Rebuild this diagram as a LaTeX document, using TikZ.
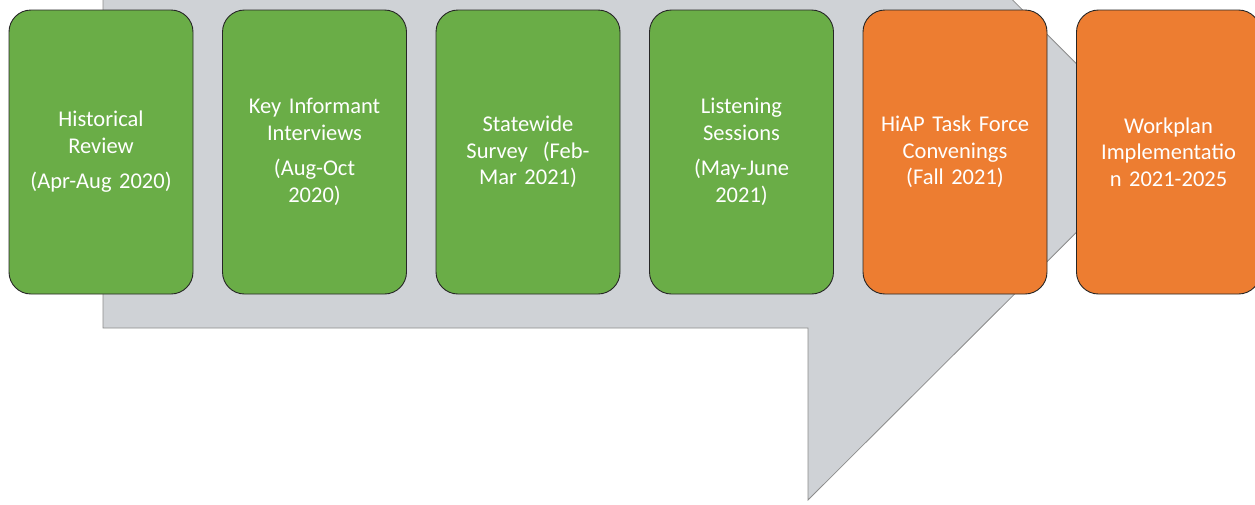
\documentclass[tikz,border=0pt]{standalone}
\usepackage{fontspec}
\setmainfont{Carlito}
\usetikzlibrary{positioning}
\definecolor{stepgreen}{RGB}{106,173,71}
\definecolor{steporange}{RGB}{237,125,49}
\definecolor{arrowgray}{RGB}{207,210,214}
\tikzset{
    phase/.style = {
      rectangle,
      rounded corners=22pt,
      draw=black!85,
      line width=0.9pt,
      minimum width=184pt,
      minimum height=284pt,
      text width=178pt,
      inner sep=0pt,
      align=center,
      text=white,
      font=\fontsize{22.5}{26.5}\selectfont
    },
    done/.style = {phase, fill=stepgreen},
    todo/.style = {phase, fill=steporange},
    bigarrow/.style = {fill=arrowgray, draw=black!45, line width=0.8pt},
}

\begin{document}
\begin{tikzpicture}[x=1pt, y=1pt, node distance=28.6pt]
      \useasboundingbox (0,0) rectangle (1255,-504);
      \begin{scope}
        \clip (0,0) rectangle (1255,-504);
        \draw[bigarrow] (103,32) -- (808,32) -- (808,204) -- (1161,-148)
          -- (808,-500) -- (808,-328) -- (103,-328) -- cycle;
      \end{scope}

      \node[done] (history) at (101,-152) {Historical\\Review\\[9pt](Apr-Aug 2020)};
      \node[done, right=of history] (interviews) {Key Informant\\Interviews\\[9pt](Aug-Oct\\2020)};
      \node[done, right=of interviews] (survey) {Statewide\\Survey\ \ (Feb-\\Mar 2021)};
      \node[done, right=of survey] (listening) {Listening\\Sessions\\[9pt](May-June\\2021)};
      \node[todo, right=of listening] (taskforce) {HiAP Task Force\\Convenings\\(Fall 2021)};
      \node[todo, right=of taskforce] (workplan) {Workplan\\Implementatio\\n 2021-2025};
\end{tikzpicture}
\end{document}
